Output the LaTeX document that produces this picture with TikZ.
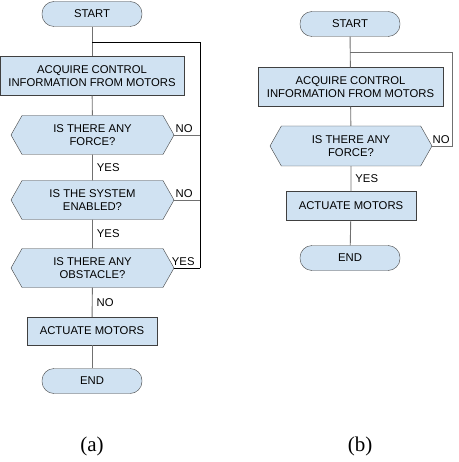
\documentclass[tikz,border=0pt]{standalone}
\usepackage{fontspec}
\setmainfont{Liberation Sans}
\newfontfamily\capfont{Liberation Serif}
\usetikzlibrary{positioning,shapes,shapes.symbols}
\definecolor{boxfill}{HTML}{D0E2F2}
\definecolor{boxline}{HTML}{404040}
\definecolor{flowline}{HTML}{707070}

\begin{document}
\begin{tikzpicture}[x=1pt, y=-1pt,
  term/.style={draw=boxline, fill=boxfill, rounded corners=12pt, minimum width=100pt, minimum height=25pt, inner sep=0pt},
  proc/.style={draw=boxline, fill=boxfill, minimum height=28pt, inner sep=0pt, align=center},
  dec/.style={signal, signal to=east and west, signal pointer angle=121, draw=boxline, fill=boxfill, minimum width=163pt, minimum height=39pt, inner sep=0pt, align=center},
  lbl/.style={inner sep=0pt},
  flow/.style={draw=flowline, line width=0.9pt},
  loop/.style={draw=black, line width=0.9pt},
  every node/.style={font=\fontsize{11.3}{13}\selectfont}]
\useasboundingbox (0,0) rectangle (458,462);

% (a)
\node[term] (start) at (92, 14) {START};
\node[proc, minimum width=184pt, minimum height=39pt] (acquire) at (92, 76) {ACQUIRE CONTROL\\INFORMATION FROM MOTORS};
\node[dec] (force) at (92.5, 135) {IS THERE ANY\\FORCE?};
\node[dec] (enabled) at (92.5, 200) {IS THE SYSTEM\\ENABLED?};
\node[dec] (obstacle) at (92.5, 268) {IS THERE ANY\\OBSTACLE?};
\node[proc, minimum width=130pt] (actuate) at (92, 331) {ACTUATE MOTORS};
\node[term] (end) at (92, 381) {END};
\node[font=\capfont\fontsize{21}{24}\selectfont] (capa) at (92, 446) {(a)};

\coordinate (joina) at (92, 42);
\coordinate (sidea) at (200, 42);

\draw[flow] (start) -- (acquire);
\draw[flow] (acquire) -- (force);
\draw[flow] (force) -- node[lbl, right=4pt] {YES} (enabled);
\draw[flow] (enabled) -- node[lbl, right=4pt] {YES} (obstacle);
\draw[flow] (obstacle) -- node[lbl, right=4pt] {NO} (actuate);
\draw[flow] (actuate) -- (end);

\draw[flow] (force.east) -- (force.east -| sidea) node[lbl, above left=2pt and 7pt] {NO};
\draw[flow] (enabled.east) -- (enabled.east -| sidea) node[lbl, above left=2pt and 7pt] {NO};
\draw[loop] (obstacle.east) -- (obstacle.east -| sidea) node[lbl, above left=2pt and 5pt] {YES};
\draw[loop] (obstacle.east -| sidea) -- (sidea) -- (joina);

% (b)
\node[term] (start2) at (350, 24) {START};
\node[proc, minimum width=185pt, minimum height=39pt] (acquire2) at (350.5, 87) {ACQUIRE CONTROL\\INFORMATION FROM MOTORS};
\node[dec, minimum width=162pt, minimum height=40pt] (force2) at (351, 146) {IS THERE ANY\\FORCE?};
\node[proc, minimum width=130pt, minimum height=29pt] (actuate2) at (351, 206) {ACTUATE MOTORS};
\node[term] (end2) at (350, 258) {END};
\node[font=\capfont\fontsize{21}{24}\selectfont] (capb) at (360, 446) {(b)};

\coordinate (joinb) at (350, 52);
\coordinate (sideb) at (452, 52);

\draw[flow] (start2) -- (acquire2);
\draw[flow] (acquire2) -- (force2);
\draw[flow] (force2) -- node[lbl, right=4pt] {YES} (actuate2);
\draw[flow] (actuate2) -- (end2);
\draw[flow] (force2.east) -- (force2.east -| sideb) node[lbl, above left=2pt and 2pt] {NO} -- (sideb) -- (joinb);
\end{tikzpicture}
\end{document}
